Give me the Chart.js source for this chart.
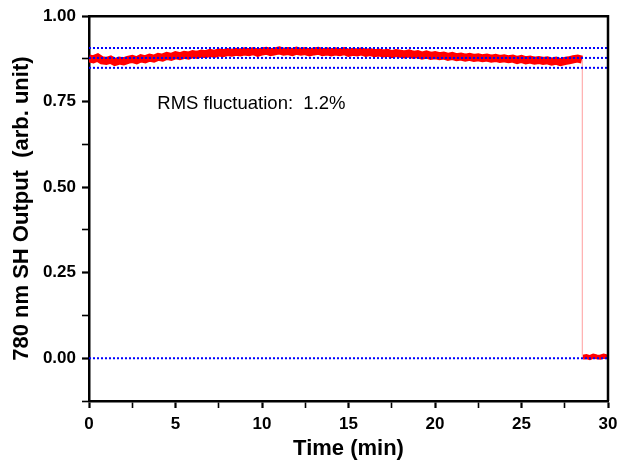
<!doctype html>
<html lang="en">
<head>
<meta charset="utf-8">
<title>780 nm SH output stability</title>
<script src="https://cdn.jsdelivr.net/npm/chart.js@4.4.1/dist/chart.umd.min.js"></script>
<style>
  body { margin: 0; background: #fff; }
  #wrap { width: 619px; height: 466px; }
</style>
</head>
<body>
<div id="wrap"><canvas id="chart" width="619" height="466"></canvas></div>

<script>
// ---- data ----
// SH output sampled every 0.25 min, from 0 to 28.5 min
var sampleStep = 0.25;
var shOutput = [
  0.877, 0.874, 0.879, 0.871, 0.869, 0.873, 0.866, 0.870, 0.868,
  0.872, 0.875, 0.871, 0.877, 0.874, 0.879, 0.876, 0.881,
  0.879, 0.884, 0.881, 0.886, 0.883, 0.887, 0.885, 0.889,
  0.887, 0.891, 0.889, 0.893, 0.890, 0.894, 0.892, 0.895,
  0.893, 0.896, 0.894, 0.897, 0.895, 0.898, 0.893, 0.897,
  0.899, 0.895, 0.897, 0.900, 0.896, 0.898, 0.895, 0.899,
  0.896, 0.898, 0.894, 0.897, 0.899, 0.895, 0.897, 0.894,
  0.897, 0.895, 0.898, 0.893, 0.896, 0.894, 0.897, 0.893,
  0.895, 0.892, 0.894, 0.891, 0.893, 0.889, 0.892, 0.890,
  0.888, 0.891, 0.887, 0.889, 0.885, 0.888, 0.884, 0.886,
  0.883, 0.885, 0.881, 0.884, 0.880, 0.882, 0.879, 0.881,
  0.878, 0.880, 0.877, 0.879, 0.876, 0.878, 0.875, 0.877,
  0.874, 0.876, 0.872, 0.875, 0.871, 0.873, 0.870, 0.872,
  0.869, 0.871, 0.867, 0.870, 0.866, 0.869, 0.871, 0.874,
  0.876, 0.873
];

// after the laser is blocked
var tailTime  = [28.55, 28.75, 28.95, 29.15, 29.35, 29.55, 29.75, 29.95];
var tailValue = [0.003, 0.005, 0.002, 0.006, 0.004, 0.003, 0.006, 0.004];

// the drop itself
var dropTime  = [28.52, 28.52];
var dropValue = [0.873, 0.003];

// dotted reference levels: mean +/- rms, and zero
var refLevels = [0.907, 0.878, 0.849, 0.0];
var timeRange = [0, 30];

var annotationText = 'RMS fluctuation:  1.2%';

var xTitle = 'Time (min)';
var yTitle = '780 nm SH Output  (arb. unit)';

// ---- build datasets ----
function toPoints(xs, ys) {
  var pts = [];
  for (var i = 0; i < ys.length; i++) pts.push({ x: xs[i], y: ys[i] });
  return pts;
}

var traceTime = shOutput.map(function (v, i) { return i * sampleStep; });

var datasets = [];
refLevels.forEach(function (lvl) {
  datasets.push({
    data: toPoints(timeRange, [lvl, lvl]),
    borderColor: '#0000ff',
    borderWidth: 2,
    borderDash: [2, 2],
    pointRadius: 0
  });
});
datasets.push({
  data: toPoints(dropTime, dropValue),
  borderColor: '#ffb3b3',
  borderWidth: 1,
  pointRadius: 0
});
datasets.push({
  data: toPoints(traceTime, shOutput),
  borderColor: '#ff0000',
  borderWidth: 8,
  pointRadius: 0
});
datasets.push({
  data: toPoints(tailTime, tailValue),
  borderColor: '#ff0000',
  borderWidth: 5,
  pointRadius: 0
});

var fontFamily = '"Liberation Sans", Arial, sans-serif';

// frame on top/right + the text label
var extras = {
  id: 'extras',
  afterDatasetsDraw: function (chart) {
    var ctx = chart.ctx, a = chart.chartArea;
    var xs = chart.scales.x, ys = chart.scales.y;
    ctx.save();
    ctx.strokeStyle = '#000';
    ctx.lineWidth = 2.5;
    ctx.beginPath();
    ctx.moveTo(a.left, a.top);
    ctx.lineTo(a.right, a.top);
    ctx.lineTo(a.right, a.bottom);
    ctx.stroke();

    ctx.fillStyle = '#000';
    ctx.font = '18.5px ' + fontFamily;
    ctx.textBaseline = 'alphabetic';
    ctx.textAlign = 'left';
    ctx.fillText(annotationText, xs.getPixelForValue(3.95), ys.getPixelForValue(0.73));
    ctx.restore();
  }
};

new Chart(document.getElementById('chart'), {
  type: 'line',
  data: { datasets: datasets },
  plugins: [extras],
  options: {
    responsive: false,
    animation: false,
    parsing: false,
    layout: { padding: { left: 0, right: 11, top: 15, bottom: 0 } },
    plugins: { legend: { display: false }, tooltip: { enabled: false } },
    scales: {
      x: {
        type: 'linear',
        min: 0, max: 30,
        afterFit: function (s) { s.height = 65; s.paddingRight = 0; s.paddingLeft = 0; },
        border: { display: true, color: '#000', width: 2.5 },
        grid: {
          drawOnChartArea: false, drawTicks: true, tickLength: 7, color: '#000',
          tickWidth: function (c) { return c.tick && c.tick.value % 5 === 0 ? 2.2 : 1.6; }
        },
        ticks: {
          stepSize: 2.5, padding: 6, color: '#000', maxRotation: 0, autoSkip: false,
          font: { family: fontFamily, size: 17, weight: 'bold' },
          callback: function (v) { return v % 5 === 0 ? String(v) : ''; }
        },
        title: {
          display: true, text: xTitle, color: '#000',
          padding: { top: 0, bottom: 4 },
          font: { family: fontFamily, size: 22, weight: 'bold' }
        }
      },
      y: {
        type: 'linear',
        min: -0.125, max: 1,
        afterFit: function (s) { s.width = 89; },
        border: { display: true, color: '#000', width: 2.5 },
        grid: {
          drawOnChartArea: false, drawTicks: true, tickLength: 7, color: '#000',
          tickWidth: function (c) { return c.tick && Math.round(c.tick.value * 8) % 2 === 0 ? 2.2 : 1.6; }
        },
        ticks: {
          stepSize: 0.125, padding: 6, color: '#000', autoSkip: false,
          font: { family: fontFamily, size: 17, weight: 'bold' },
          callback: function (v) {
            var k = Math.round(v * 8);
            return (k >= 0 && k % 2 === 0) ? (k / 8).toFixed(2) : '';
          }
        },
        title: {
          display: true, text: yTitle, color: '#000',
          padding: { top: 9, bottom: 0 },
          font: { family: fontFamily, size: 22, weight: 'bold' }
        }
      }
    }
  }
});
</script>
</body>
</html>
